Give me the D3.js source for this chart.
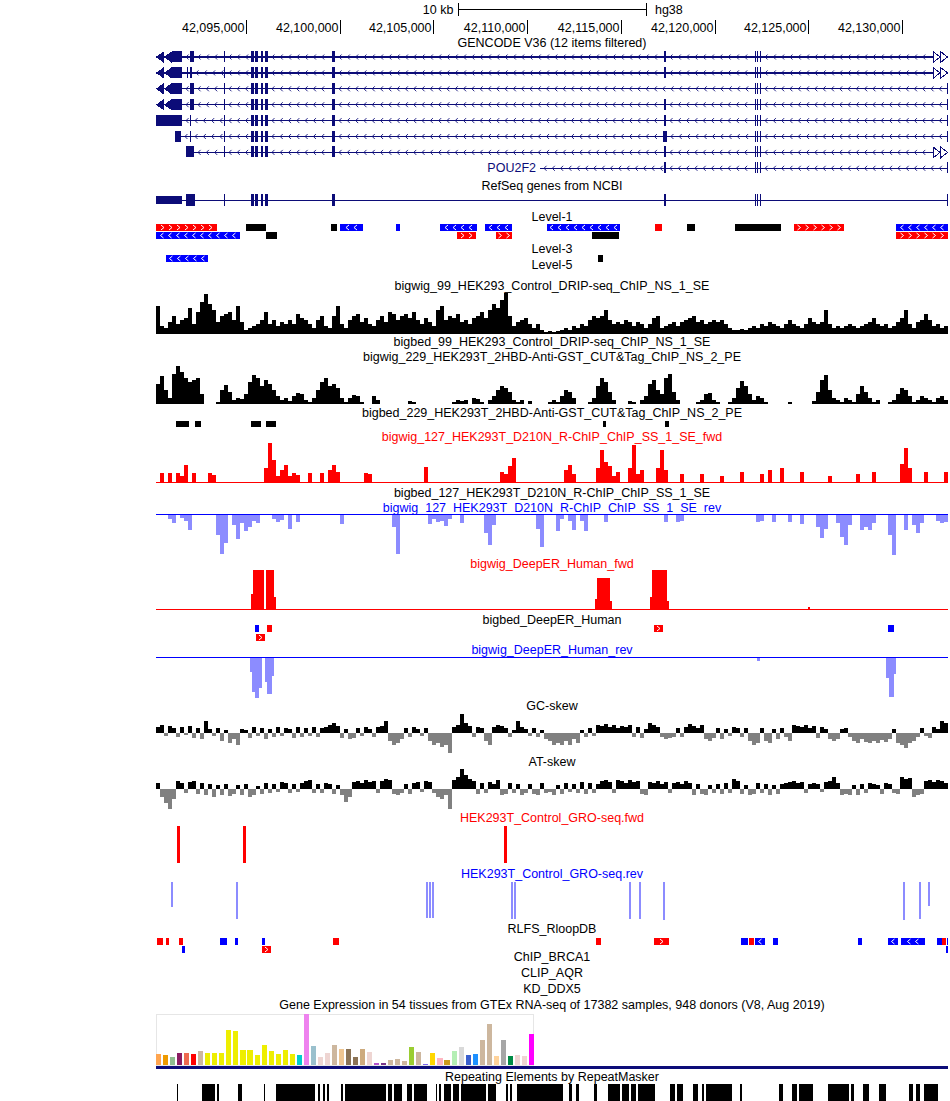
<!DOCTYPE html>
<html><head><meta charset="utf-8">
<script src="https://cdn.jsdelivr.net/npm/d3@7/dist/d3.min.js"></script>
<style>
html,body{margin:0;padding:0;background:#fff;}
svg text{font-family:"Liberation Sans",Arial,Helvetica,sans-serif;font-size:12.5px;}
</style></head><body>
<svg id="chart" width="950" height="1101"></svg>
<script>
// ================= DATA (positions in kb on chr19, hg38) =================
const regionStart = 42090.21, regionEnd = 42132.45;
const tickKb = [42095, 42100, 42105, 42110, 42115, 42120, 42125, 42130];
const scaleBarStartKb = 42106.34, scaleBarKb = 10;
const scaleBarLabel = "10 kb", assemblyLabel = "hg38";

const trackTitles = [
  "GENCODE V36 (12 items filtered)", "RefSeq genes from NCBI", "Level-1", "Level-3", "Level-5",
  "bigwig_99_HEK293_Control_DRIP-seq_ChIP_NS_1_SE", "bigbed_99_HEK293_Control_DRIP-seq_ChIP_NS_1_SE",
  "bigwig_229_HEK293T_2HBD-Anti-GST_CUT&Tag_ChIP_NS_2_PE", "bigbed_229_HEK293T_2HBD-Anti-GST_CUT&Tag_ChIP_NS_2_PE",
  "bigwig_127_HEK293T_D210N_R-ChIP_ChIP_SS_1_SE_fwd", "bigbed_127_HEK293T_D210N_R-ChIP_ChIP_SS_1_SE",
  "bigwig_127_HEK293T_D210N_R-ChIP_ChIP_SS_1_SE_rev",
  "bigwig_DeepER_Human_fwd", "bigbed_DeepER_Human", "bigwig_DeepER_Human_rev", "GC-skew", "AT-skew",
  "HEK293T_Control_GRO-seq.fwd", "HEK293T_Control_GRO-seq.rev", "RLFS_RloopDB", "ChIP_BRCA1", "CLIP_AQR", "KD_DDX5",
  "Gene Expression in 54 tissues from GTEx RNA-seq of 17382 samples, 948 donors (V8, Aug 2019)",
  "Repeating Elements by RepeatMasker"
];
const titleStrand = ["", "", "", "", "", "", "", "", "", "+", "", "-", "+", "", "-", "", "", "+", "-", "", "", "", "", "", ""];

// GENCODE transcripts (POU2F2), minus strand
const exUTR = [42091.06, 42091.60];
const exCore = [[42093.84, 42093.89], [42095.28, 42095.44], [42095.49, 42095.65], [42095.81, 42095.92],
  [42096.02, 42096.18], [42099.60, 42099.76]];
const exE6 = [42117.30, 42117.41];
const exE7 = [[42122.16, 42122.21], [42122.26, 42122.32], [42122.42, 42122.48]];
const exLast = [42132.38, 42132.45];
const gencodeTx = [
  {start: 42090.21, end: 42132.45, exons: [exUTR, [42092.02, 42092.24], ...exCore, exE6, ...exE7], leftCont: true, rightCont: true},
  {start: 42090.21, end: 42132.45, exons: [exUTR, [42091.86, 42091.92], [42092.02, 42092.13], ...exCore, exE6, ...exE7], leftCont: true, rightCont: true},
  {start: 42090.21, end: 42132.45, exons: [exUTR, [42092.02, 42092.24], ...exCore, ...exE7, exLast], leftCont: true, rightCont: false},
  {start: 42090.21, end: 42132.45, exons: [exUTR, [42092.02, 42092.24], ...exCore, exE6, ...exE7, exLast], leftCont: true, rightCont: false},
  {start: 42090.21, end: 42132.45, exons: [[42090.21, 42091.60], [42092.02, 42092.08], ...exCore, exE6, ...exE7, exLast], leftCont: false, rightCont: false},
  {start: 42091.22, end: 42132.45, exons: [[42091.22, 42091.54], [42092.02, 42092.08], ...exCore, [42117.25, 42117.46], ...exE7, exLast], leftCont: false, rightCont: false},
  {start: 42091.81, end: 42132.45, exons: [[42091.81, 42092.24], ...exCore, exE6, ...exE7], leftCont: false, rightCont: true},
  {start: 42110.69, end: 42132.45, exons: [exE6, ...exE7, exLast], leftCont: false, rightCont: false, label: "POU2F2"}
];
const refseqTx = {start: 42090.21, end: 42132.45,
  utr: [[42090.21, 42091.60]],
  exons: [[42091.81, 42092.29], ...exCore, exE6, ...exE7, exLast]};

// BED-like features: [start, end, strand, row]
const level1 = [
  [42090.21, 42093.46, "+", 0], [42095.01, 42096.08, ".", 0], [42099.54, 42099.86, ".", 0],
  [42100.02, 42101.25, "-", 0], [42103.01, 42103.22, "-", 0], [42105.36, 42107.33, "-", 0],
  [42107.76, 42109.20, "-", 0], [42111.06, 42114.96, "-", 0], [42116.82, 42117.20, "+", 0],
  [42118.53, 42118.96, ".", 0], [42121.09, 42123.54, ".", 0], [42124.24, 42126.90, "+", 0],
  [42129.68, 42132.45, "-", 0],
  [42090.21, 42094.69, "-", 1], [42096.08, 42096.66, ".", 1], [42106.26, 42107.28, "+", 1],
  [42108.34, 42109.20, "+", 1], [42113.46, 42114.90, ".", 1], [42129.68, 42132.45, "+", 1]
];
const level3 = [[42090.74, 42092.98, "-", 0], [42113.78, 42114.05, ".", 0]];
const bigbed229 = [[42091.28, 42091.97, ".", 0], [42092.29, 42092.61, ".", 0], [42095.28, 42095.81, ".", 0],
  [42096.08, 42096.61, ".", 0], [42114.05, 42114.21, ".", 0], [42117.36, 42117.57, ".", 0]];
const deeperBed = [[42095.49, 42095.70, "-", 0], [42096.13, 42096.40, "+", 0], [42116.77, 42117.25, "+", 0],
  [42129.25, 42129.57, "-", 0], [42095.54, 42096.02, "+", 1]];
const rlfs = [
  [42090.26, 42090.58, "+", 0], [42090.74, 42090.90, "+", 0], [42091.44, 42091.65, "+", 0],
  [42093.62, 42094.00, "-", 0], [42094.42, 42094.58, "-", 0], [42095.86, 42096.02, "-", 0],
  [42099.65, 42099.97, "+", 0], [42113.68, 42113.94, "+", 0], [42116.77, 42117.57, "+", 0],
  [42121.41, 42121.78, "-", 0], [42121.84, 42122.10, "+", 0], [42122.16, 42122.69, "-", 0],
  [42123.12, 42123.38, "-", 0], [42127.65, 42127.86, "-", 0], [42129.25, 42129.78, "-", 0],
  [42129.94, 42131.22, "-", 0], [42131.86, 42132.13, "-", 0], [42132.13, 42132.34, "+", 0],
  [42132.39, 42132.45, "-", 0],
  [42091.60, 42091.76, "-", 1], [42095.86, 42096.34, "+", 1], [42132.34, 42132.45, "-", 1]
];

// binned signals (198 equal bins across the region)
const dripSignal = [
  28,8,6,12,18,10,14,16,26,10, 22,32,40,30,24,12,18,20,22,14, 28,12,4,6,8,10,14,22,10,14,
  8,12,10,14,10,20,16,14,10,6, 14,18,8,6,18,28,10,6,14,18, 20,12,16,10,8,14,18,12,22,20,
  14,18,20,16,22,14,10,16,12,8, 24,28,14,18,16,20,12,14,10,16, 18,22,16,24,30,26,34,41,18,8,
  12,14,16,10,6,10,4,2,3,2, 3,4,6,4,8,6,10,8,14,18, 16,18,24,14,10,12,10,14,12,8,
  12,10,6,10,16,18,6,8,10,12, 8,12,14,16,18,12,14,10,12,14, 12,14,10,6,4,4,5,4,6,8,
  6,10,8,12,10,8,6,10,14,10, 8,6,10,16,12,10,12,24,10,6, 8,6,8,10,8,6,8,10,12,16,
  10,8,10,6,8,12,16,24,10,6, 12,14,20,14,8,10,6,8
];
const cutTagSignal = [
  20,28,14,6,30,38,32,26,22,24, 26,10,0,0,0,2,14,19,12,4, 6,5,10,22,29,26,18,24,20,14,
  8,4,6,3,8,11,10,4,2,6, 14,22,26,18,20,16,6,2,6,9, 8,2,0,0,8,4,0,0,0,0,
  0,0,0,3,2,0,0,0,0,0, 0,0,0,0,2,4,3,4,0,6, 5,2,0,4,8,14,18,16,12,4,
  2,4,0,3,0,0,0,0,2,4, 2,8,14,12,6,0,0,0,2,6, 18,26,22,12,4,0,0,0,3,2,
  0,4,8,20,24,14,10,26,30,12, 4,0,0,0,0,2,4,10,11,4, 2,0,0,2,6,16,23,18,10,4,
  8,6,2,0,0,0,0,0,2,0, 0,0,0,0,3,12,24,29,14,6, 4,2,6,4,2,10,18,12,6,2,
  4,0,0,2,4,10,16,14,8,2, 4,8,6,4,2,6,8,4
];
const rchipFwd = [
  0,9,0,9,0,9,6,17,0,9, 0,0,0,9,7,0,0,0,0,0, 0,0,0,0,0,0,0,14,39,22,
  6,12,17,6,9,7,0,0,9,0, 0,9,0,12,17,10,0,0,0,0, 0,0,9,8,0,0,0,0,0,0,
  0,0,0,0,0,0,0,15,0,0, 0,0,0,0,0,0,0,0,0,0, 0,0,0,0,0,0,10,8,16,24,
  0,0,0,0,0,0,0,0,0,0, 0,0,12,17,8,0,0,0,0,0, 14,32,20,16,6,10,0,0,14,37,
  8,12,0,0,0,14,32,12,0,0, 0,8,0,0,0,0,8,0,0,0, 0,6,0,0,0,0,10,0,0,0,
  0,8,0,12,0,0,14,0,0,0, 0,10,0,0,0,0,0,0,6,0, 0,0,0,0,0,8,0,0,0,10,
  0,0,0,0,0,0,18,34,14,0, 0,0,10,0,0,0,0,10
];
const rchipRev = [
  0,0,0,4,8,0,3,6,15,0, 0,0,0,0,0,20,39,28,0,10, 24,8,16,12,6,8,0,0,0,4,
  7,5,0,14,0,7,0,0,0,0, 0,0,0,0,0,0,9,0,0,0, 0,0,0,0,0,0,0,0,0,12,
  39,0,0,0,0,0,0,0,9,4, 7,6,11,4,0,0,8,0,0,0, 0,0,18,30,10,0,0,0,0,0,
  0,0,0,0,0,14,32,0,0,0, 16,4,0,6,15,0,6,16,0,0, 0,0,7,0,0,0,0,0,0,0,
  0,0,0,0,0,0,0,7,0,0, 7,6,0,0,0,0,0,0,0,0, 0,0,0,0,0,0,0,0,0,0,
  7,6,0,0,7,0,0,0,7,0, 0,9,0,0,0,12,23,14,0,0, 8,22,30,10,0,0,15,12,15,8,
  0,0,0,20,40,0,0,15,0,10, 18,8,0,0,0,6,8,7
];
const gcSkew = [
  6,8,-3,7,5,-4,6,-2,7,-5, 5,-6,12,4,-3,5,-8,3,-10,-6, -12,4,3,-5,6,-3,5,-6,4,-4,
  6,-3,5,4,-5,6,-4,5,-3,6, -4,5,6,8,10,7,-5,4,-6,-5, 5,-3,6,4,-4,6,7,12,-8,-12,
  -10,-6,5,-4,6,4,-3,5,-8,-12, -10,-14,-12,-20,6,8,19,10,7,-4, 6,5,-8,-12,6,8,7,5,-4,3,
  12,6,4,-3,5,-4,3,-6,-8,-12, -10,-12,-8,-12,-6,-10,3,-4,5,-3, 8,7,9,6,8,5,7,6,8,-4,
  6,-5,4,10,8,6,-4,-6,-5,-4, 5,-4,6,9,7,5,8,-6,-8,-5, 5,-6,4,-3,6,5,-4,5,-8,-12,
  -10,5,-8,-10,4,-6,5,-4,-8,8, 7,6,8,5,7,-5,6,4,-6,-8, -6,4,5,-4,-8,-10,-6,-9,-10,-8,
  -10,-7,-9,-6,4,-10,-12,-15,-10,-8, -4,5,-3,-5,6,4,12,10
];
const atSkew = [
  6,-8,-14,-20,-10,8,6,-4,7,8, -5,6,-6,5,-8,4,-6,5,-7,-5, 4,-6,5,-8,-6,3,-5,6,-4,5,
  -3,7,6,-4,5,-3,6,8,9,-4, 5,-4,6,5,-5,4,-6,-13,-8,7, 8,6,9,7,8,-4,8,10,9,-5,
  -6,-4,5,-5,6,7,-3,8,7,-4, -8,-10,-6,-20,9,12,20,14,10,8, -5,6,-4,7,5,9,-6,-5,6,-4,
  5,-6,-4,5,-5,-6,6,-4,-3,-6, 4,-5,6,-3,5,-4,7,-5,6,-4, 5,8,9,7,-4,9,8,6,9,7,
  8,-5,-6,7,6,8,5,7,-4,6, 7,5,8,6,-6,5,-5,-6,4,-4, 5,-5,6,-4,10,8,-5,4,-6,-5,
  6,-4,5,-6,4,-5,5,6,7,8, 6,7,-4,5,6,5,-3,7,8,12, 6,-6,-5,-6,4,-6,5,-4,6,5,
  4,-5,6,5,-4,-5,12,10,11,-8, -6,-5,8,9,7,9,8,6
];

// bedGraph intervals: [start, end, value]
const deeperFwd = [
  [42095.28, 42095.38, 15], [42095.38, 42095.97, 39], [42096.08, 42096.50, 39], [42096.50, 42096.61, 12],
  [42113.62, 42113.73, 10], [42113.73, 42114.42, 31], [42114.42, 42114.53, 8],
  [42116.56, 42116.66, 12], [42116.66, 42117.46, 39], [42117.46, 42117.57, 8], [42124.98, 42125.09, 2]
];
const deeperRev = [
  [42095.22, 42095.33, 14], [42095.33, 42095.49, 34], [42095.49, 42095.70, 40], [42095.70, 42095.86, 30],
  [42096.02, 42096.13, 24], [42096.13, 42096.40, 36], [42096.40, 42096.50, 18],
  [42122.26, 42122.42, 3],
  [42129.14, 42129.30, 20], [42129.30, 42129.57, 39], [42129.57, 42129.68, 16]
];
const groFwd = [[42091.33, 42091.49, 37], [42094.85, 42095.01, 37], [42108.77, 42108.93, 37]];
const groRev = [
  [42091.01, 42091.12, 25], [42094.48, 42094.58, 37], [42104.61, 42104.72, 36], [42104.77, 42104.88, 36],
  [42104.93, 42105.04, 36], [42109.14, 42109.25, 37], [42109.30, 42109.41, 37], [42115.44, 42115.54, 37],
  [42115.97, 42116.08, 37], [42117.25, 42117.36, 38], [42130.05, 42130.16, 38], [42130.90, 42131.01, 37],
  [42131.38, 42131.49, 24]
];

// GTEx
const gtexTissueColors = ["#FFA54F","#EE9A00","#8FBC8F","#8B1C62","#EE6A50","#FF0000","#CDB79E",
  "#EEEE00","#EEEE00","#EEEE00","#EEEE00","#EEEE00","#EEEE00","#EEEE00","#EEEE00","#EEEE00","#EEEE00","#EEEE00","#EEEE00","#EEEE00",
  "#00CDCD","#EE82EE","#9AC0CD","#EED5D2","#EED5D2","#CDB79E","#EEC591","#8B7355","#8B7355","#CDAA7D","#EED5D2",
  "#B452CD","#7A378B","#CDB79E","#CDB79E","#CDB79E","#9ACD32","#CDB79E","#7A67EE","#FFD700","#FFB6C1","#CD9B1D",
  "#B4EEB4","#D9D9D9","#3A5FCD","#1E90FF","#CDB79E","#CDB79E","#FFD39B","#A6A6A6","#008B45","#EED5D2","#EED5D2","#FF00FF"];
const gtexValues = [11,10,8,12,12,11,14,12,12,12,35,34,15,15,10,20,14,11,15,11,10,51,19,8,12,20,16,16,8,16,13,
  2,2,5,6,4,18,13,1,12,7,5,14,18,10,11,25,41,9,25,9,10,9,31];

// RepeatMasker
const repeats = [
  [42091.33,42091.38],[42092.66,42093.36],[42093.46,42093.57],[42094.58,42094.80],[42095.97,42096.02],
  [42096.61,42098.69],[42098.85,42098.96],[42099.12,42099.22],[42099.33,42099.44],[42100.08,42100.18],
  [42100.29,42102.48],[42102.58,42102.80],[42102.90,42103.33],[42103.60,42103.86],[42103.97,42104.66],
  [42105.14,42105.20],[42105.30,42105.41],[42105.57,42105.94],[42106.05,42106.37],[42106.48,42107.81],
  [42107.92,42108.34],[42108.88,42108.98],[42109.09,42109.20],[42109.46,42111.92],[42112.24,42112.40],
  [42112.61,42112.77],[42113.57,42113.73],[42114.32,42114.96],[42115.06,42115.44],[42115.54,42115.81],
  [42115.92,42116.82],[42117.62,42117.89],[42118.00,42118.32],[42118.85,42119.12],[42119.33,42119.44],
  [42119.54,42120.93],[42121.36,42121.46],[42123.44,42123.65],[42124.13,42124.40],[42124.50,42125.25],
  [42126.05,42127.17],[42127.28,42127.44],[42127.92,42128.24],[42128.77,42129.14],[42130.37,42130.58],
  [42130.74,42130.96],[42131.17,42131.92]
];

// ================= DRAWING =================
const navy = "#0c0c78", red = "#ff0000", blue = "#0000ff", lightBlue = "#8c8cff", gray = "#808080";
const svg = d3.select("#chart");
const x = d3.scaleLinear().domain([regionStart, regionEnd]).range([156, 948]);
svg.append("defs").append("clipPath").attr("id", "dataClip")
  .append("rect").attr("x", 156).attr("y", 0).attr("width", 792).attr("height", 1101);
const plot = svg.append("g").attr("clip-path", "url(#dataClip)").attr("shape-rendering", "crispEdges");

// scale bar + ruler
const sb0 = x(scaleBarStartKb), sb1 = x(scaleBarStartKb + scaleBarKb);
svg.append("line").attr("x1", sb0).attr("x2", sb1).attr("y1", 9.5).attr("y2", 9.5).attr("stroke", "#000");
[sb0, sb1].forEach(p => svg.append("line").attr("x1", Math.round(p) + 0.5).attr("x2", Math.round(p) + 0.5)
  .attr("y1", 3).attr("y2", 16).attr("stroke", "#000"));
svg.append("text").attr("x", sb0 - 5).attr("y", 13.5).attr("text-anchor", "end").text(scaleBarLabel);
svg.append("text").attr("x", sb1 + 9).attr("y", 13.5).text(assemblyLabel);
const fmt = d3.format(",");
tickKb.forEach(t => {
  const px = Math.round(x(t)) + 0.5;
  svg.append("line").attr("x1", px).attr("x2", px).attr("y1", 20).attr("y2", 34).attr("stroke", "#000");
  svg.append("text").attr("x", px - 2).attr("y", 32).attr("text-anchor", "end").text(fmt(Math.round(t * 1000)));
});

// titles
const titleY = [47,190,221,253,269,290,346,361,417,441,497,512,568,624,654,710,766,822,878,933,961,977,993,1009,1081];
trackTitles.forEach((t, i) => {
  svg.append("text").attr("x", 552).attr("y", titleY[i]).attr("text-anchor", "middle")
    .attr("fill", titleStrand[i] === "+" ? red : titleStrand[i] === "-" ? blue : "#000").text(t);
});

// gene models
function chevronsBetween(g, a, b, yc, color) {
  for (let p = a + 4; p < b - 3; p += 8.3) {
    g.append("path").attr("d", `M${p + 2.5},${yc - 2.5}L${p},${yc}L${p + 2.5},${yc + 2.5}`)
      .attr("fill", "none").attr("stroke", color).attr("stroke-width", 0.9).attr("shape-rendering", "auto");
  }
}
function drawTranscript(t, yc, h, withChevrons) {
  const g = plot.append("g");
  g.append("line").attr("x1", x(t.start)).attr("x2", x(t.end)).attr("y1", yc + 0.5).attr("y2", yc + 0.5)
    .attr("stroke", navy).attr("stroke-width", 1.2);
  const all = (t.utr || []).concat(t.exons).map(e => [x(e[0]), x(e[1])]).sort((a, b) => a[0] - b[0]);
  if (withChevrons) {
    let prev = t.leftCont ? 172 : x(t.start);
    all.forEach(e => { chevronsBetween(g, prev, e[0], yc + 0.5, navy); prev = Math.max(prev, e[1]); });
    chevronsBetween(g, prev, t.rightCont ? 933 : x(t.end), yc + 0.5, navy);
  }
  (t.utr || []).forEach(e => g.append("rect").attr("x", x(e[0])).attr("y", yc - h / 2 + 2)
    .attr("width", Math.max(1, x(e[1]) - x(e[0]))).attr("height", h - 4).attr("fill", navy));
  t.exons.forEach(e => g.append("rect").attr("x", x(e[0])).attr("y", yc - h / 2)
    .attr("width", Math.max(1, x(e[1]) - x(e[0]))).attr("height", h).attr("fill", navy));
  if (t.leftCont) {
    [156, 164].forEach(p => g.append("path")
      .attr("d", `M${p + 7.5},${yc - 5}L${p},${yc + 0.5}L${p + 7.5},${yc + 6}Z`).attr("fill", navy));
  }
  if (t.rightCont) {
    [933, 940.5].forEach(p => g.append("path")
      .attr("d", `M${p},${yc - 5}L${p + 7},${yc + 0.5}L${p},${yc + 6}Z`)
      .attr("fill", "#fff").attr("stroke", navy).attr("stroke-width", 1));
  }
  if (t.label) {
    svg.append("text").attr("x", x(t.start) - 4).attr("y", yc + 4.5).attr("text-anchor", "end")
      .attr("fill", navy).text(t.label);
  }
}
gencodeTx.forEach((t, i) => drawTranscript(t, 56.5 + i * 15.9, 11, true));
drawTranscript(refseqTx, 200, 12, false);

// bed features
function drawBed(items, yTop, rowH, rowGap, blackOnly) {
  items.forEach(d => {
    const x0 = x(d[0]), x1 = x(d[1]), y0 = yTop + d[3] * rowGap;
    const col = blackOnly || d[2] === "." ? "#000" : d[2] === "+" ? red : blue;
    plot.append("rect").attr("x", x0).attr("y", y0).attr("width", Math.max(2, x1 - x0)).attr("height", rowH).attr("fill", col);
    if (!blackOnly && d[2] !== ".") {
      const w = x1 - x0, n = Math.floor(w / 8);
      for (let k = 0; k < n; k++) {
        const cx = x0 + (w - (n - 1) * 8) / 2 + k * 8, cy = y0 + rowH / 2, s = d[2] === "+" ? 1 : -1;
        plot.append("path").attr("d", `M${cx - 1.5 * s},${cy - 2.5}L${cx + 1.5 * s},${cy}L${cx - 1.5 * s},${cy + 2.5}`)
          .attr("fill", "none").attr("stroke", "#fff").attr("stroke-width", 1).attr("shape-rendering", "auto");
      }
    }
  });
}
drawBed(level1, 224, 7, 8, false);
drawBed(level3, 255, 7, 8, false);
drawBed(bigbed229, 421, 6, 8, true);
drawBed(deeperBed, 625, 7, 9, false);
drawBed(rlfs, 938, 7, 8, false);

// binned signal as bars
function drawBinned(vals, base, maxV, h, posColor, negColor, dir) {
  const n = vals.length, w = (regionEnd - regionStart) / n;
  const ys = d3.scaleLinear().domain([0, maxV]).range([0, h]);
  vals.forEach((v, i) => {
    if (v === 0) return;
    const x0 = x(regionStart + i * w), x1 = x(regionStart + (i + 1) * w);
    const hh = ys(Math.abs(v));
    const up = dir > 0 ? v > 0 : v < 0;
    plot.append("rect").attr("x", x0).attr("width", x1 - x0)
      .attr("y", up ? base - hh : base).attr("height", hh)
      .attr("fill", v > 0 ? posColor : negColor);
  });
}
function drawIntervals(items, base, maxV, h, color, dir) {
  const ys = d3.scaleLinear().domain([0, maxV]).range([0, h]);
  items.forEach(d => {
    const hh = ys(d[2]);
    plot.append("rect").attr("x", x(d[0])).attr("width", Math.max(1, x(d[1]) - x(d[0])))
      .attr("y", dir > 0 ? base - hh : base).attr("height", hh).attr("fill", color);
  });
}
function baseline(y, color) {
  plot.append("line").attr("x1", 156).attr("x2", 948).attr("y1", y + 0.5).attr("y2", y + 0.5).attr("stroke", color);
}
drawBinned(dripSignal, 334, 41, 41, "#000", "#000", 1);
drawBinned(cutTagSignal, 404, 39, 39, "#000", "#000", 1);
drawBinned(rchipFwd, 482, 39, 39, red, red, 1);
baseline(482, red);
drawBinned(rchipRev, 515, 40, 40, lightBlue, lightBlue, -1);
baseline(514, blue);
drawIntervals(deeperFwd, 609, 39, 39, red, 1);
baseline(609, red);
drawIntervals(deeperRev, 658, 40, 40, lightBlue, -1);
baseline(657, blue);
drawBinned(gcSkew, 733, 20, 20, "#000", gray, 1);
drawBinned(atSkew, 789, 20, 20, "#000", gray, 1);
drawIntervals(groFwd, 863, 37, 37, red, 1);
drawIntervals(groRev, 882, 38, 38, lightBlue, -1);

// GTEx
const gx = d3.scaleBand().domain(d3.range(gtexValues.length)).range([156, 156 + 7 * gtexValues.length]).paddingInner(0.28).paddingOuter(0);
const gy = d3.scaleLinear().domain([0, 51]).range([1065, 1014]);
svg.append("rect").attr("x", 156.5).attr("y", 1014.5).attr("width", 377).attr("height", 51)
  .attr("fill", "none").attr("stroke", "#e6e6e6");
svg.append("g").attr("shape-rendering", "crispEdges").selectAll("rect").data(gtexValues).join("rect")
  .attr("x", (d, i) => gx(i)).attr("width", gx.bandwidth())
  .attr("y", d => gy(d)).attr("height", d => 1065 - gy(d))
  .attr("fill", (d, i) => gtexTissueColors[i]);
svg.append("rect").attr("x", 156).attr("y", 1066).attr("width", 792).attr("height", 3).attr("fill", navy);

// RepeatMasker
plot.append("g").selectAll("rect").data(repeats).join("rect")
  .attr("x", d => x(d[0])).attr("width", d => Math.max(1, x(d[1]) - x(d[0])))
  .attr("y", 1084).attr("height", 17).attr("fill", "#000");
</script>
</body></html>
